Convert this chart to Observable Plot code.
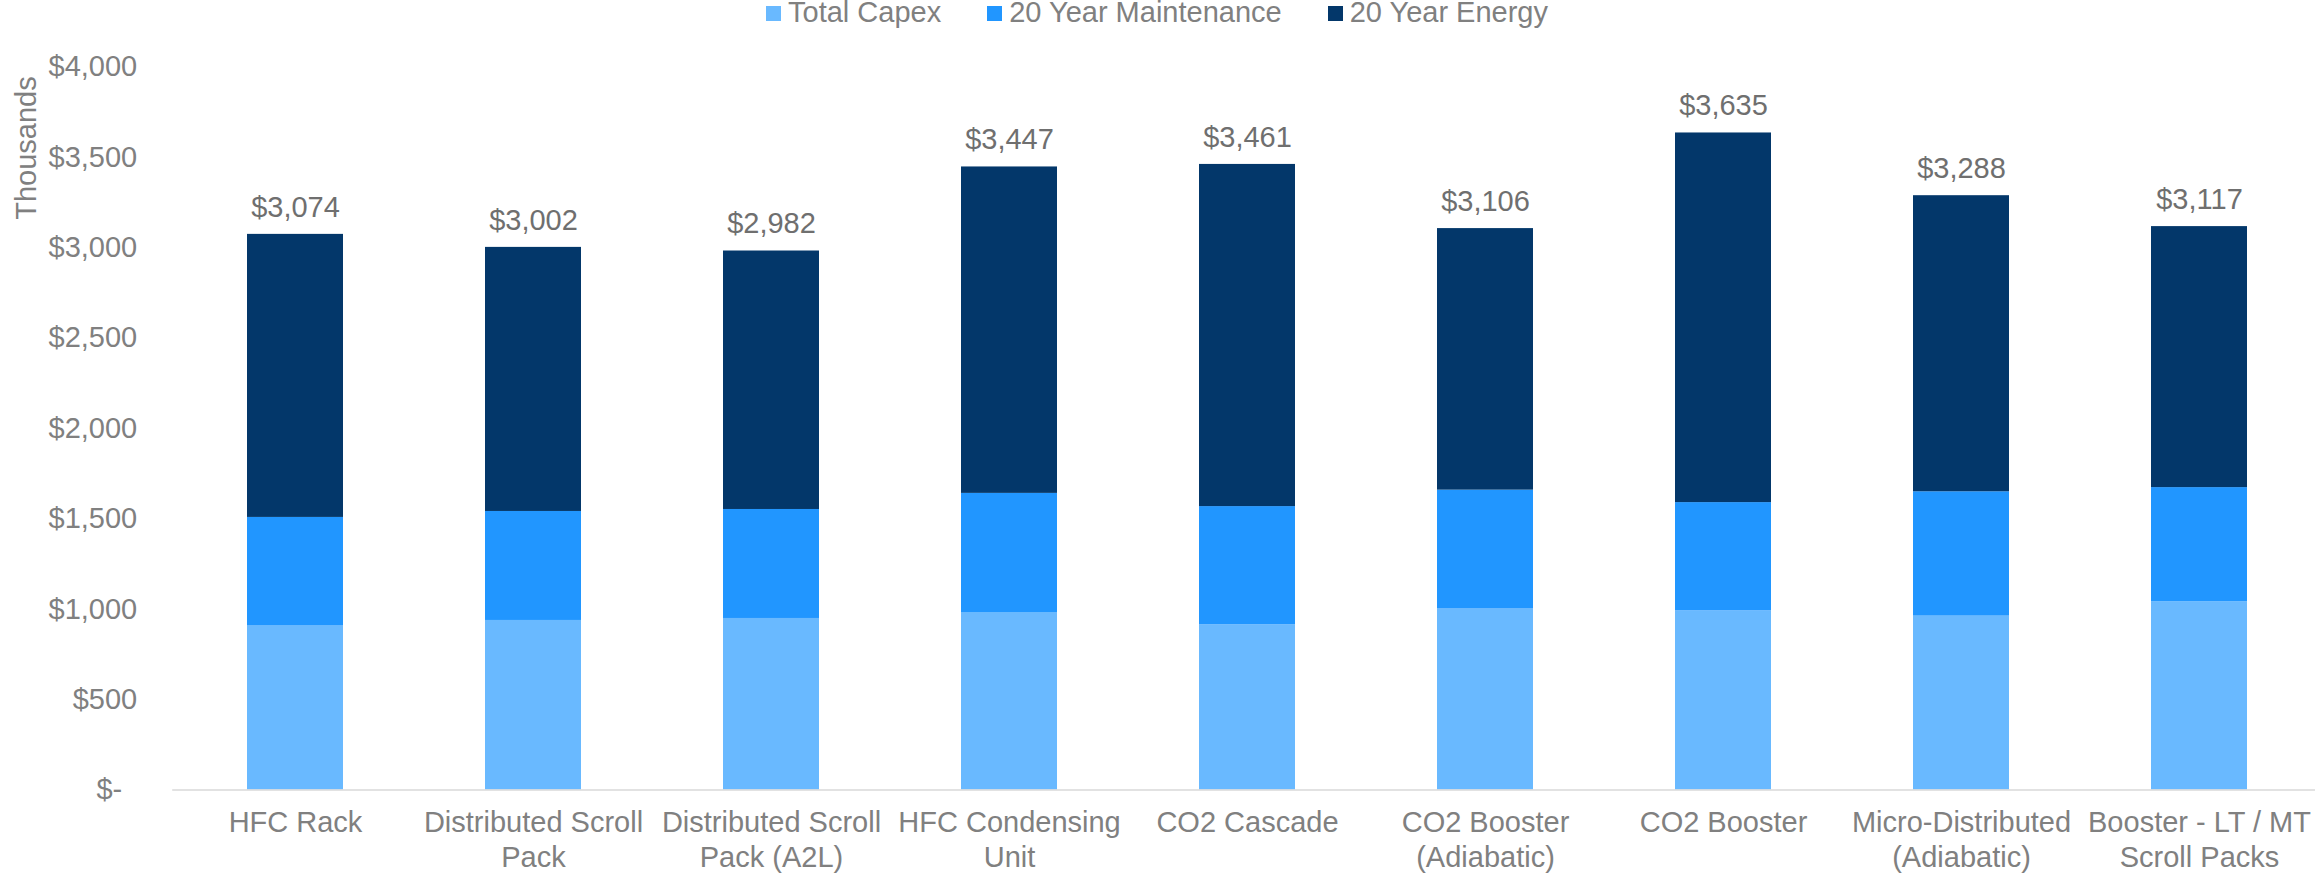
<!DOCTYPE html>
<html><head><meta charset="utf-8">
<script src="https://cdn.jsdelivr.net/npm/d3@7"></script>
<script src="https://cdn.jsdelivr.net/npm/@observablehq/plot@0.6"></script>
<style>
html,body{margin:0;padding:0;background:#fff;overflow:hidden}
#legend{height:30px;display:flex;padding-left:766px;gap:46px;font-family:"Liberation Sans",Arial,sans-serif;font-size:29px;color:#808080;}
.item{display:flex;align-items:flex-start;line-height:25px;white-space:nowrap}
.sw{width:15px;height:15px;margin-top:6px;margin-right:7px}
</style></head><body>
<div id="legend"></div><div id="chart"></div>
<script>
const categories = ["HFC Rack","Distributed Scroll Pack","Distributed Scroll Pack (A2L)","HFC Condensing Unit","CO2 Cascade","CO2 Booster (Adiabatic)","CO2 Booster","Micro-Distributed (Adiabatic)","Booster - LT / MT Scroll Packs"];
const xLabels = ["HFC Rack","Distributed Scroll\nPack","Distributed Scroll\nPack (A2L)","HFC Condensing\nUnit","CO2 Cascade","CO2 Booster\n(Adiabatic)","CO2 Booster","Micro-Distributed\n(Adiabatic)","Booster - LT / MT\nScroll Packs"];
const series = ["Total Capex","20 Year Maintenance","20 Year Energy"];
const colors = ["#69B9FF","#2196FF","#03376A"];
const capex = [910, 938, 949, 982, 914, 1004, 991, 962, 1042];
const maintenance = [598, 603, 603, 659, 654, 655, 599, 688, 631];
const energy = [1566, 1461, 1430, 1806, 1893, 1447, 2045, 1638, 1444];
const yTicks = [500, 1000, 1500, 2000, 2500, 3000, 3500, 4000];
const yZeroTick = [0];

// legend
const lg = document.getElementById("legend");
series.forEach((s, i) => {
  const it = document.createElement("div"); it.className = "item";
  const sw = document.createElement("div"); sw.className = "sw"; sw.style.background = colors[i];
  const tx = document.createElement("span"); tx.textContent = s;
  it.appendChild(sw); it.appendChild(tx); lg.appendChild(it);
});

const values = [capex, maintenance, energy];
const rows = [];
categories.forEach((c, i) => series.forEach((s, j) => rows.push({cat: c, series: s, value: values[j][i]})));
const totals = categories.map((c, i) => ({cat: c, total: capex[i] + maintenance[i] + energy[i]}));
const fmt = d3.format(",");
const font = '"Liberation Sans", Arial, sans-serif';

const chart = Plot.plot({
  width: 2315, height: 845,
  marginTop: 36.5, marginBottom: 85.5, marginLeft: 172.2, marginRight: -5.6,
  style: {fontFamily: font, fontSize: "29px", color: "#808080", background: "#fff"},
  x: {domain: categories, paddingInner: 0.598, paddingOuter: 0.3},
  y: {domain: [0, 4000]},
  color: {domain: series, range: colors},
  marks: [
    Plot.barY(rows, {x: "cat", y: "value", fill: "series"}),
    Plot.ruleY([0], {stroke: "#d9d9d9", strokeWidth: 1.5}),
    Plot.text(totals, {x: "cat", y: "total", text: d => "$" + fmt(d.total), dy: -27, lineAnchor: "middle", fill: "#6f6f6f", fontSize: 29}),
    Plot.axisX({tickSize: 0, tickPadding: 18, tickFormat: d => xLabels[categories.indexOf(d)], lineHeight: 1.18, fontSize: 29, label: null}),
    Plot.axisY({ticks: yTicks, tickSize: 0, tickPadding: 35.5, tickFormat: d => "$" + fmt(d), fontSize: 29, label: null}),
    Plot.axisY({ticks: yZeroTick, tickSize: 0, tickPadding: 50.5, tickFormat: () => "$-", fontSize: 29, label: null}),
    Plot.text(["Thousands"], {frameAnchor: "top-left", textAnchor: "middle", rotate: -90, dx: 15 - 172.2, dy: 81, fill: "#808080", fontSize: 29})
  ]
});
document.getElementById("chart").appendChild(chart);
</script>
</body></html>
